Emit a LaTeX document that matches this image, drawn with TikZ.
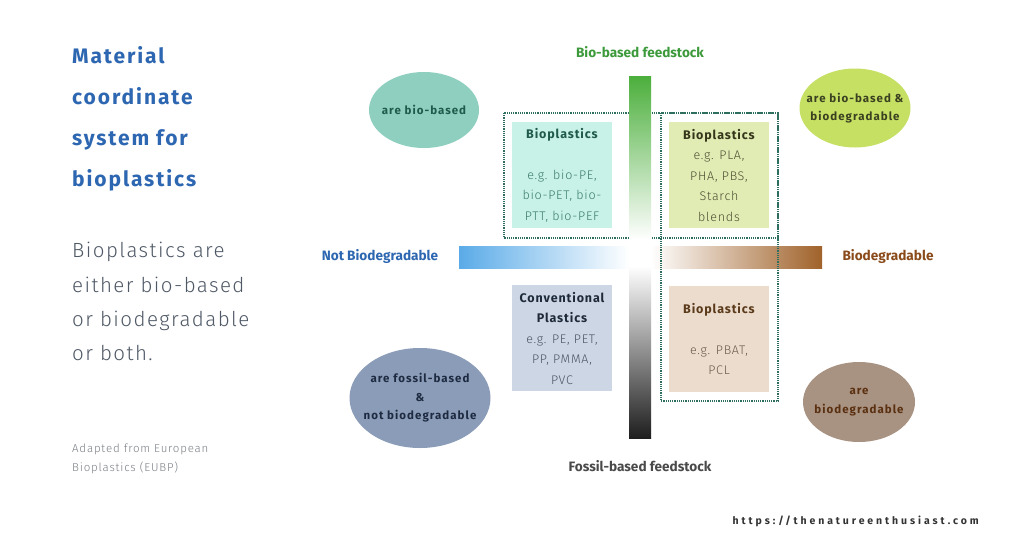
\documentclass[tikz,border=0pt]{standalone}
\usepackage{fontspec}
\setmainfont{Fira Sans}
\newfontfamily\titlefont[LetterSpace=9]{Fira Sans}
\newfontfamily\bodyfont[LetterSpace=7]{Fira Sans Light}
\newfontfamily\notefont[LetterSpace=7]{Fira Sans Light}
\newfontfamily\boxfont[LetterSpace=6]{Fira Sans Light}
\newfontfamily\boxhead[LetterSpace=7]{Fira Sans}
\newfontfamily\blobfont[LetterSpace=9]{Fira Sans}
\newfontfamily\urlfont[LetterSpace=28]{Fira Sans}
\usetikzlibrary{shapes.geometric}
\definecolor{titleblue}{HTML}{2E67B1}
\definecolor{bodygrey}{HTML}{4F5966}
\definecolor{noteGrey}{HTML}{7A7F85}
\definecolor{greenlab}{HTML}{3C9A3A}
\definecolor{barGreen}{HTML}{4CAF3C}
\definecolor{barBlue}{HTML}{5AABE8}
\definecolor{barBrown}{HTML}{A0622A}
\definecolor{barDark}{HTML}{1E1E1E}
\definecolor{brownlab}{HTML}{8A4A1A}
\definecolor{fossilgrey}{HTML}{4A4A4A}
\definecolor{dotcol}{HTML}{2E6E5E}
\definecolor{mintfill}{HTML}{C8F2E8}
\definecolor{minttitle}{HTML}{1F5A4A}
\definecolor{minttext}{HTML}{3A7A6A}
\definecolor{limefill}{HTML}{E0ECB4}
\definecolor{limetitle}{HTML}{35351A}
\definecolor{limetext}{HTML}{4E4E32}
\definecolor{greyfill}{HTML}{CDD6E4}
\definecolor{greytitle}{HTML}{1E2A3A}
\definecolor{greytext}{HTML}{4C5462}
\definecolor{tanfill}{HTML}{ECDCCD}
\definecolor{tantitle}{HTML}{5A3A1A}
\definecolor{tantext}{HTML}{6A5A4A}
\definecolor{ellA}{HTML}{8ECFC0}
\definecolor{ellB}{HTML}{C5E063}
\definecolor{ellC}{HTML}{8A9CB8}
\definecolor{ellD}{HTML}{A89282}
\definecolor{ellBtext}{HTML}{3A4020}
\definecolor{ellCtext}{HTML}{1E2A40}
\definecolor{ellDtext}{HTML}{5A3010}
\definecolor{urlcol}{HTML}{333333}
\tikzset{
  titleline/.style={anchor=base west, text=titleblue, font=\titlefont\bfseries\fontsize{21}{21}\selectfont, inner sep=0pt},
  bodyline/.style={anchor=base west, text=bodygrey, font=\bodyfont\fontsize{20.5}{20.5}\selectfont, inner sep=0pt},
  noteline/.style={anchor=base west, text=noteGrey, font=\notefont\fontsize{11.5}{11.5}\selectfont, inner sep=0pt},
  axislabel/.style={font=\bfseries\fontsize{13.6}{13.6}\selectfont, inner sep=0pt},
  infobox/.style={rectangle, minimum width=100pt, minimum height=106pt, inner sep=0pt, align=center,
     font=\boxfont\fontsize{12.5}{20.5}\selectfont},
  blob/.style={ellipse, inner sep=0pt},
  blobtext/.style={inner sep=0pt, align=center, font=\blobfont\bfseries\fontsize{11.5}{18.5}\selectfont},
  dotbox/.style={draw=dotcol, densely dotted, line width=1.2pt},
}
\newcommand{\bh}[1]{{\boxhead\bfseries #1}}
\begin{document}
\begin{tikzpicture}[x=1pt,y=-1pt]
\useasboundingbox[fill=white] (0,0) rectangle (1024,538);

% left title
\node[titleline] (t1) at (72,63) {Material};
\node[titleline] (t2) at (72,104) {coordinate};
\node[titleline] (t3) at (72,145) {system for};
\node[titleline] (t4) at (72,186) {bioplastics};

\node[bodyline] (b1) at (72,257) {Bioplastics are};
\node[bodyline] (b2) at (72,292) {either bio-based};
\node[bodyline] (b3) at (72,326) {or biodegradable};
\node[bodyline] (b4) at (72,360) {or both.};

\node[noteline] (n1) at (72,452) {Adapted from European};
\node[noteline] (n2) at (72,471) {Bioplastics (EUBP)};

% horizontal bar
\shade[left color=barBlue, right color=white] (459,246) rectangle (629,268);
\shade[left color=white, right color=barBrown] (651,246) rectangle (822,268);
\fill[white] (629,246) rectangle (651,268);

% dotted frames
\draw[dotbox] (504,113) rectangle (778,238);
\draw[dotbox] (661,113) rectangle (778,401);

% vertical bar
\shade[top color=barGreen, bottom color=white] (629,76) rectangle (651,240);
\shade[top color=white, bottom color=barDark] (629,266) rectangle (651,438);

% axis labels
\node[axislabel, text=greenlab] (ytop) at (640,52) {Bio-based feedstock};
\node[axislabel, text=fossilgrey] (ybot) at (640,466) {Fossil-based feedstock};
\node[axislabel, text=titleblue] (xl) at (380,256) {Not Biodegradable};
\node[axislabel, text=brownlab] (xr) at (888,256) {Biodegradable};

% quadrant boxes
\node[infobox, fill=mintfill] (q1) at (562,175)
  {\textcolor{minttitle}{\bh{Bioplastics}}\\[20.5pt]\textcolor{minttext}{e.g. bio-PE,}\\\textcolor{minttext}{bio-PET, bio-}\\\textcolor{minttext}{PTT, bio-PEF}};
\node[infobox, fill=limefill] (q2) at (719,175)
  {\textcolor{limetitle}{\bh{Bioplastics}}\\\textcolor{limetext}{e.g. PLA,}\\\textcolor{limetext}{PHA, PBS,}\\\textcolor{limetext}{Starch}\\\textcolor{limetext}{blends}};
\node[infobox, fill=greyfill] (q3) at (562,338)
  {\textcolor{greytitle}{\bh{Conventional}}\\\textcolor{greytitle}{\bh{Plastics}}\\\textcolor{greytext}{e.g. PE, PET,}\\\textcolor{greytext}{PP, PMMA,}\\\textcolor{greytext}{PVC}};
\node[infobox, fill=tanfill] (q4) at (719,339)
  {\textcolor{tantitle}{\bh{Bioplastics}}\\[20.5pt]\textcolor{tantext}{e.g. PBAT,}\\\textcolor{tantext}{PCL}};

% ellipses
\node[blob, fill=ellA, minimum width=110pt, minimum height=76pt] (e1) at (424,110) {};
\node[blobtext, text=minttitle] (e1t) at (e1.center) {are bio-based};
\node[blob, fill=ellB, minimum width=111pt, minimum height=79pt] (e2) at (855,108) {};
\node[blobtext, text=ellBtext] (e2t) at (e2.center) {are bio-based \&\\biodegradable};
\node[blob, fill=ellC, minimum width=141pt, minimum height=100pt] (e3) at (420,398) {};
\node[blobtext, text=ellCtext] (e3t) at (e3.center) {are fossil-based\\\&\\not biodegradable};
\node[blob, fill=ellD, minimum width=112pt, minimum height=80pt] (e4) at (859,402) {};
\node[blobtext, text=ellDtext] (e4t) at (e4.center) {are\\biodegradable};

% url
\node[anchor=base east, inner sep=0pt, text=urlcol, font=\urlfont\bfseries\fontsize{10.5}{10.5}\selectfont] (url) at (979,524) {https://thenatureenthusiast.com};
\end{tikzpicture}
\end{document}
